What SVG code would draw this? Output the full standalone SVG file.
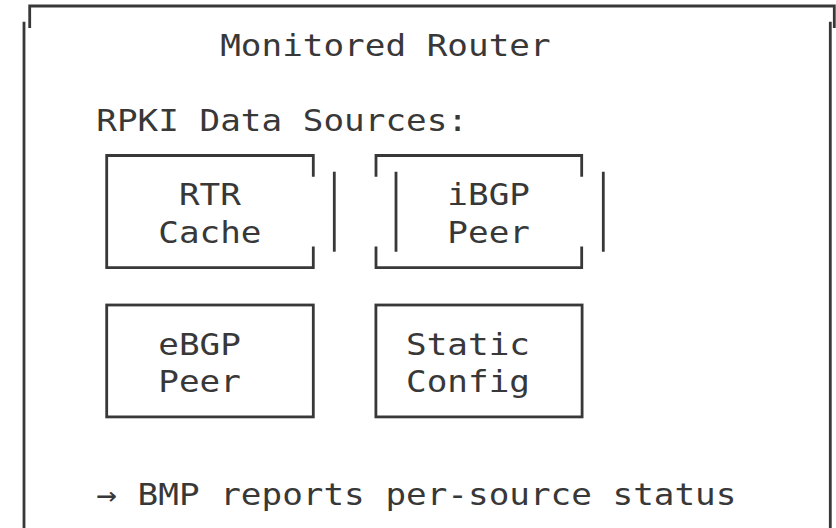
<svg xmlns="http://www.w3.org/2000/svg" width="836" height="528" viewBox="0 0 836 528">
<style>
.ln{fill:none;stroke:#383838;stroke-width:2.8;stroke-linecap:butt;stroke-linejoin:miter}
.tx{font-family:"DejaVu Sans Mono",monospace;font-size:31px;fill:#383838}
</style>
<rect width="836" height="528" fill="#ffffff"/>
<g id="router">
<path class="ln" d="M29.7,28 V6 H834.3 V28"/>
<path class="ln" d="M24,21.7 V528 M830.3,21.7 V528"/>
<text class="tx" transform="translate(220.2,55.8) scale(1.1066,1)">Monitored Router</text>
<text class="tx" transform="translate(96.3,130.6) scale(1.1066,1)">RPKI Data Sources:</text>
</g>
<g id="rtr-cache">
<path class="ln" d="M313.3,176.7 V155.5 H106.7 V267.7 H313.3 V246.5"/>
<path class="ln" d="M334.3,171.7 V251.7"/>
<text class="tx" transform="translate(178.9,205.4) scale(1.1066,1)">RTR</text>
<text class="tx" transform="translate(158.25,242.8) scale(1.1066,1)">Cache</text>
</g>
<g id="ibgp-peer">
<path class="ln" d="M376,176.7 V155.5 H581.7 V176.7 M376,246.5 V267.7 H581.7 V246.5"/>
<path class="ln" d="M396,171.7 V251.7 M603.3,171.7 V251.7"/>
<text class="tx" transform="translate(447.35,205.4) scale(1.1066,1)">iBGP</text>
<text class="tx" transform="translate(447.35,242.8) scale(1.1066,1)">Peer</text>
</g>
<g id="ebgp-peer">
<rect class="ln" x="106.7" y="305" width="206.6" height="111.9"/>
<text class="tx" transform="translate(158.25,355) scale(1.1066,1)">eBGP</text>
<text class="tx" transform="translate(158.25,392.4) scale(1.1066,1)">Peer</text>
</g>
<g id="static-config">
<rect class="ln" x="375.9" y="305" width="206.2" height="111.9"/>
<text class="tx" transform="translate(406.05,355) scale(1.1066,1)">Static</text>
<text class="tx" transform="translate(406.05,392.4) scale(1.1066,1)">Config</text>
</g>
<g id="connectors"></g>
<g id="note">
<text class="tx" transform="translate(96.3,504.6) scale(1.1066,1)">→ BMP reports per-source status</text>
</g>
</svg>
